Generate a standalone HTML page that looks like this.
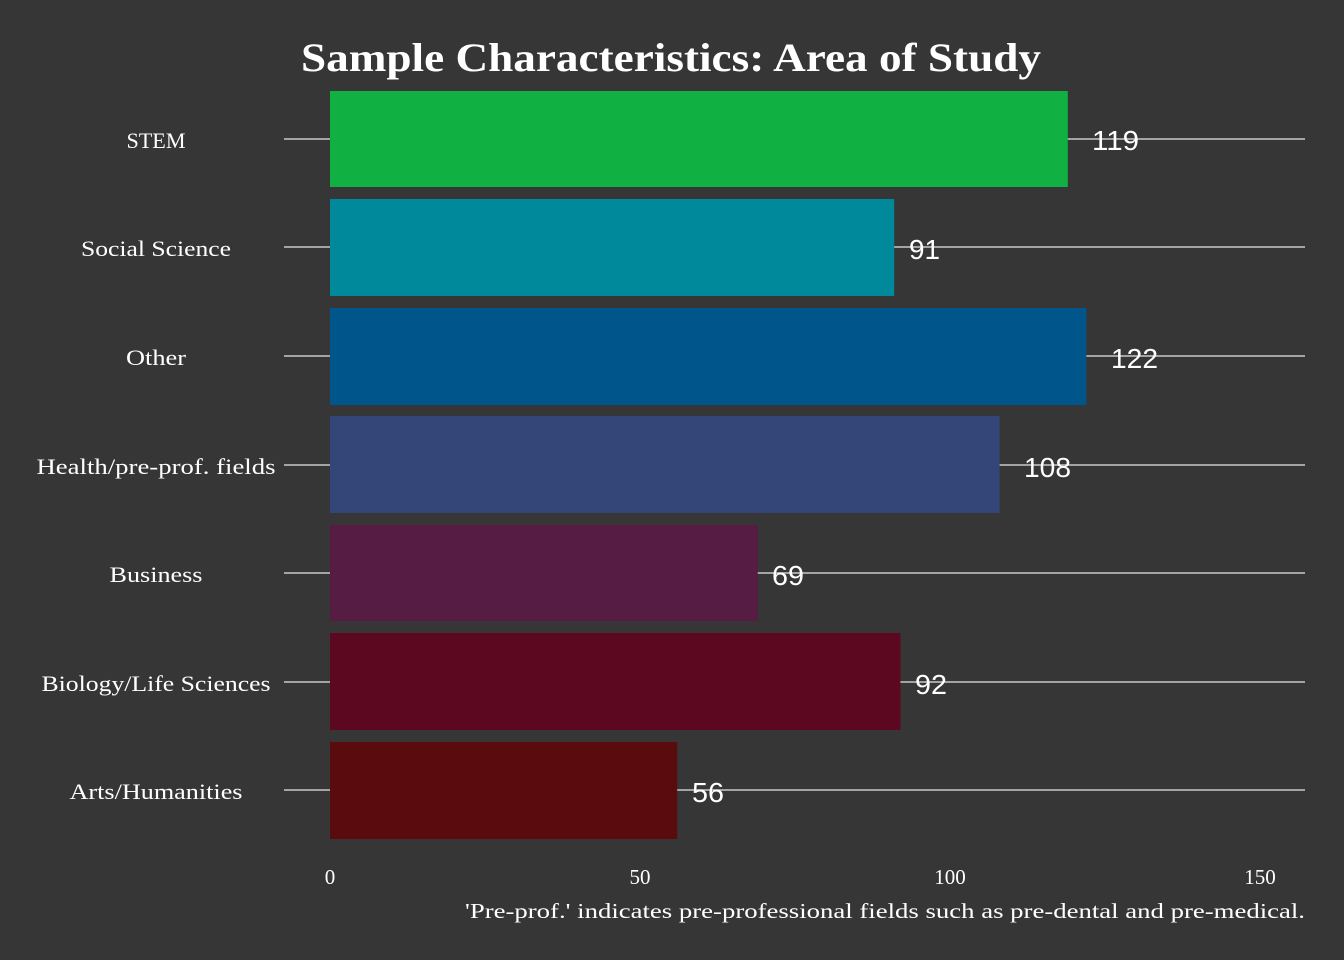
<!DOCTYPE html>
<html><head><meta charset="utf-8"><style>
html,body{margin:0;padding:0;background:#363636;}
svg{display:block;}
.lab{font-family:"Liberation Serif",serif;font-size:22px;fill:#fff;text-anchor:middle;}
.val{font-family:"Liberation Sans",sans-serif;font-size:28px;fill:#fff;}
.tick{font-family:"Liberation Serif",serif;font-size:21px;fill:#fff;text-anchor:middle;}
</style></head><body>
<svg width="1344" height="960" xmlns="http://www.w3.org/2000/svg">
<rect width="1344" height="960" fill="#363636"/>
<text x="671" y="71" text-anchor="middle" font-family="Liberation Serif,serif" font-weight="bold" font-size="40" fill="#fff" textLength="740" lengthAdjust="spacingAndGlyphs">Sample Characteristics: Area of Study</text>
<g stroke="#c8c8c8" stroke-width="1.5">
<line x1="284" x2="1305" y1="139" y2="139"/>
<line x1="284" x2="1305" y1="247" y2="247"/>
<line x1="284" x2="1305" y1="356" y2="356"/>
<line x1="284" x2="1305" y1="465" y2="465"/>
<line x1="284" x2="1305" y1="573" y2="573"/>
<line x1="284" x2="1305" y1="682" y2="682"/>
<line x1="284" x2="1305" y1="790" y2="790"/>
</g>
<rect x="330" y="91" width="737.8" height="96" fill="#10b042"/>
<rect x="330" y="199" width="564.2" height="97" fill="#00889b"/>
<rect x="330" y="308" width="756.4" height="97" fill="#00558a"/>
<rect x="330" y="416" width="669.6" height="97" fill="#344577"/>
<rect x="330" y="525" width="427.8" height="96" fill="#561c44"/>
<rect x="330" y="633" width="570.4" height="97" fill="#5c0820"/>
<rect x="330" y="742" width="347.2" height="97" fill="#5a0b0e"/>
<text class="lab" x="156" y="148" textLength="59" lengthAdjust="spacingAndGlyphs">STEM</text>
<text class="lab" x="156" y="256" textLength="150" lengthAdjust="spacingAndGlyphs">Social Science</text>
<text class="lab" x="156" y="365" textLength="60" lengthAdjust="spacingAndGlyphs">Other</text>
<text class="lab" x="156" y="474" textLength="239" lengthAdjust="spacingAndGlyphs">Health/pre-prof. fields</text>
<text class="lab" x="156" y="582" textLength="93" lengthAdjust="spacingAndGlyphs">Business</text>
<text class="lab" x="156" y="691" textLength="229" lengthAdjust="spacingAndGlyphs">Biology/Life Sciences</text>
<text class="lab" x="156" y="799" textLength="173" lengthAdjust="spacingAndGlyphs">Arts/Humanities</text>
<text class="val" x="1092" y="150" textLength="47" lengthAdjust="spacingAndGlyphs">119</text>
<text class="val" x="909" y="259" textLength="31" lengthAdjust="spacingAndGlyphs">91</text>
<text class="val" x="1111" y="368" textLength="47" lengthAdjust="spacingAndGlyphs">122</text>
<text class="val" x="1024" y="477" textLength="47" lengthAdjust="spacingAndGlyphs">108</text>
<text class="val" x="772" y="585" textLength="32" lengthAdjust="spacingAndGlyphs">69</text>
<text class="val" x="915" y="694" textLength="32" lengthAdjust="spacingAndGlyphs">92</text>
<text class="val" x="692" y="802" textLength="32" lengthAdjust="spacingAndGlyphs">56</text>
<text class="tick" x="330" y="884">0</text>
<text class="tick" x="640" y="884">50</text>
<text class="tick" x="950" y="884">100</text>
<text class="tick" x="1260" y="884">150</text>
<text x="1305" y="918" text-anchor="end" font-family="Liberation Serif,serif" font-size="21" fill="#fff" textLength="840" lengthAdjust="spacingAndGlyphs">'Pre-prof.' indicates pre-professional fields such as pre-dental and pre-medical.</text>
</svg>
</body></html>
